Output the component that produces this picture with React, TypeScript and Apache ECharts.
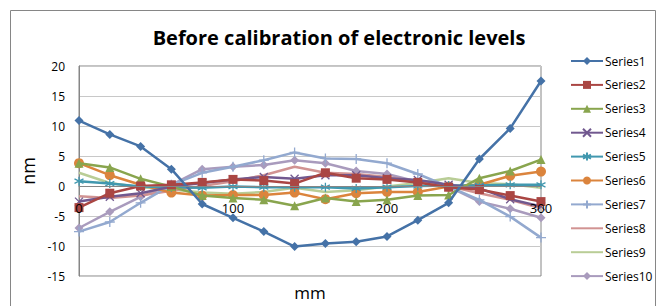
import React, { useEffect, useRef } from "react";
import * as echarts from "echarts";

const xValues = [0, 20, 40, 60, 80, 100, 120, 140, 160, 180, 200, 220, 240, 260, 280, 300];
const seriesNames = ["Series1", "Series2", "Series3", "Series4", "Series5", "Series6", "Series7", "Series8", "Series9", "Series10"];
const s1 = [10.9, 8.6, 6.6, 2.8, -3.0, -5.3, -7.6, -10.1, -9.6, -9.3, -8.4, -5.7, -2.8, 4.5, 9.6, 17.5];
const s2 = [-3.6, -1.2, 0.0, 0.2, 0.6, 1.1, 0.9, 0.4, 2.2, 1.3, 1.1, 0.6, -0.2, -0.6, -1.6, -2.6];
const s3 = [3.8, 3.1, 1.2, -0.1, -1.6, -2.0, -2.3, -3.3, -2.0, -2.6, -2.3, -1.6, -1.5, 1.3, 2.5, 4.4];
const s4 = [-2.6, -1.8, -1.2, -0.1, 0.5, 1.1, 1.5, 1.2, 1.8, 1.8, 1.3, 1.0, 0.2, -0.4, -2.2, -3.4];
const s5 = [0.8, 0.4, -0.1, -0.2, -0.3, -0.1, -0.2, -0.2, -0.2, -0.4, -0.2, 0.0, 0.1, 0.1, 0.2, 0.2];
const s6 = [3.8, 1.8, 0.2, -1.1, -1.6, -1.5, -1.5, -1.1, -2.2, -1.2, -1.0, -1.0, -0.1, 0.2, 1.7, 2.4];
const s7 = [-7.6, -6.0, -2.8, 0.2, 2.2, 3.2, 4.3, 5.6, 4.6, 4.5, 3.8, 2.0, -0.1, -2.3, -5.1, -8.6];
const s8 = [-1.7, -2.0, -1.6, -0.8, 0.0, 0.8, 1.8, 3.2, 2.2, 2.0, 1.5, 0.7, 0.0, -1.2, -2.3, -3.7];
const s9 = [2.2, 0.5, -0.2, -0.6, -1.1, -1.3, -1.0, -0.3, -1.0, -0.7, -0.1, 0.5, 1.3, 0.5, 0.3, -0.3];
const s10 = [-7.0, -4.3, -1.8, 0.2, 2.8, 3.2, 3.5, 4.3, 3.8, 2.5, 2.0, 0.7, -0.1, -2.6, -3.8, -5.3];
const allSeries = [s1, s2, s3, s4, s5, s6, s7, s8, s9, s10];
const yTicks = { min: -15, max: 20, interval: 5 };
const xTicks = { min: 0, max: 300, interval: 100 };

const colors = ["#4572A7", "#AA4643", "#89A54E", "#71588F", "#4198AF", "#DB843D", "#93A9CF", "#D19392", "#B9CD96", "#A99BBD"];
const symbols = [
  "diamond",
  "rect",
  "triangle",
  "path://M0,0L10,10M10,0L0,10",
  "path://M5,0L5,10M0,2.5L10,7.5M0,7.5L10,2.5",
  "circle",
  "path://M5,0L5,10M0,5L10,5",
  "none",
  "none",
  "diamond",
];
const symbolSizes = [9, 9, 9, 8, 9, 10, 10, 0, 0, 9];
const strokeSymbols = [false, false, false, true, true, false, true, false, false, false];

const FONT = "'Open Sans', 'Liberation Sans', sans-serif";

// plot area geometry
const GRID_TOP = 66;
const GRID_BOTTOM = 30;
const CHART_H = 306;
const plotH = CHART_H - GRID_TOP - GRID_BOTTOM;
// shift x axis up so that it sits at y = 0 (Excel style crossing)
const zeroOffset = -plotH * (0 - yTicks.min) / (yTicks.max - yTicks.min);

export default function App() {
  const ref = useRef<HTMLDivElement>(null);
  useEffect(() => {
    if (!ref.current) return;
    const chart = echarts.init(ref.current, undefined, { renderer: "svg" });
    chart.setOption({
      animation: false,
      backgroundColor: "#ffffff",
      title: {
        text: "Before calibration of electronic levels",
        left: 334,
        textAlign: "center",
        top: 22,
        textStyle: { fontFamily: FONT, fontSize: 20, fontWeight: "bold", color: "#000" },
      },
      graphic: [
        {
          type: "rect",
          shape: { x: 10.5, y: 10.5, width: 645, height: 300 },
          style: { fill: "none", stroke: "#868686", lineWidth: 1 },
          silent: true,
          z: -1,
        },
      ],
      legend: {
        orient: "vertical",
        left: 565,
        top: 50,
        itemWidth: 32,
        itemHeight: 10,
        itemGap: 11.9,
        textStyle: { fontFamily: FONT, fontSize: 12, color: "#000", padding: [0, 0, 0, -3] },
        data: seriesNames,
      },
      grid: {
        left: 79,
        right: 122,
        top: GRID_TOP,
        bottom: GRID_BOTTOM,
        show: true,
        borderColor: "#868686",
        borderWidth: 1,
        outerBoundsMode: "none",
        containLabel: false,
      },
      xAxis: {
        type: "value",
        position: "bottom",
        offset: zeroOffset,
        z: 50,
        min: xTicks.min,
        max: xTicks.max,
        interval: xTicks.interval,
        name: "mm",
        nameLocation: "middle",
        nameGap: 98,
        nameTextStyle: { fontFamily: FONT, fontSize: 17, color: "#000" },
        axisLine: { onZero: false, lineStyle: { color: "#868686" } },
        axisTick: { show: false },
        splitLine: { show: false },
        axisLabel: { fontFamily: FONT, fontSize: 13, color: "#000", margin: 15 },
      },
      yAxis: {
        type: "value",
        min: yTicks.min,
        max: yTicks.max,
        interval: yTicks.interval,
        name: "nm",
        nameLocation: "middle",
        nameGap: 36,
        nameRotate: 90,
        nameTextStyle: { fontFamily: FONT, fontSize: 18, color: "#000" },
        axisLine: { show: true, onZero: false, lineStyle: { color: "#868686" } },
        axisTick: { show: false },
        splitLine: { show: true, lineStyle: { color: "#c8c8c8", width: 1 } },
        axisLabel: { fontFamily: FONT, fontSize: 12, color: "#000", margin: 14 },
      },
      series: allSeries.map((vals, i) => {
        const noMarker = symbols[i] === "none";
        return {
          name: seriesNames[i],
          type: "line",
          data: vals.map((v, j) => [xValues[j], v]),
          symbol: noMarker ? "circle" : symbols[i],
          symbolSize: noMarker ? 1 : symbolSizes[i],
          showSymbol: !noMarker,
          lineStyle: { color: colors[i], width: 2.5 },
          itemStyle: noMarker
            ? { color: "rgba(0,0,0,0)", borderColor: "rgba(0,0,0,0)", borderWidth: 0 }
            : strokeSymbols[i]
            ? { color: colors[i], borderColor: colors[i], borderWidth: 1.3 }
            : { color: colors[i] },
          z: 10 - i,
        };
      }),
    });
    return () => chart.dispose();
  }, []);
  return <div ref={ref} style={{ width: 663, height: 306, position: "absolute", left: 0, top: 0 }} />;
}
